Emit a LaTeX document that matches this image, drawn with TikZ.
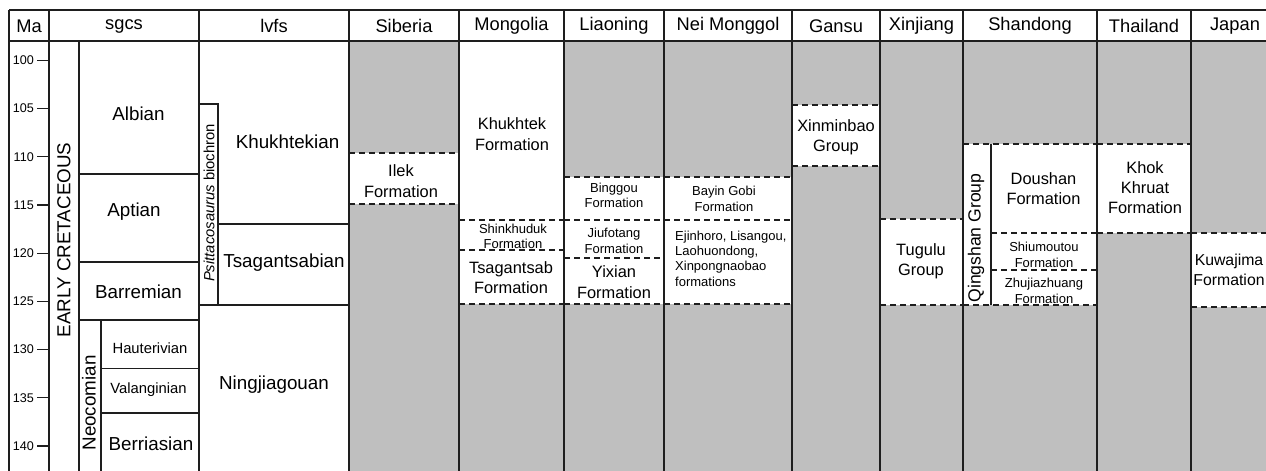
\documentclass[tikz,border=0pt]{standalone}
\usepackage{fontspec}
\setmainfont{Liberation Sans}
\definecolor{greyfill}{RGB}{191,191,191}
\definecolor{ink}{RGB}{30,30,30}
\tikzset{
  solidline/.style={draw=ink,line width=1.2pt},
  dashline/.style={draw=ink,line width=1.4pt,dash pattern=on 6pt off 4pt},
  hdr/.style={inner sep=0pt,font=\fontsize{18.3}{20}\selectfont},
  big/.style={inner sep=0pt,align=center,font=\fontsize{18.8}{20}\selectfont},
  mid/.style={inner sep=0pt,align=center,font=\fontsize{14.8}{16}\selectfont},
  med/.style={inner sep=0pt,align=center,font=\fontsize{16.4}{20.3}\selectfont},
  sml/.style={inner sep=0pt,align=center,font=\fontsize{13}{15.5}\selectfont},
  tick/.style={inner sep=0pt,anchor=east,font=\fontsize{12.6}{14}\selectfont},
  greybox/.style={fill=greyfill},
}
\begin{document}
\begin{tikzpicture}[x=1pt,y=-1pt]
\useasboundingbox (0,0) rectangle (1266,471);
\clip (0,0) rectangle (1266,471);
\fill[white] (0,0) rectangle (1266,471);
% grey areas
\path[greybox] (349,41) rectangle (459,153);
\path[greybox] (349,204) rectangle (459,471);
\path[greybox] (459,304) rectangle (564,471);
\path[greybox] (564,41) rectangle (664,177);
\path[greybox] (564,304) rectangle (664,471);
\path[greybox] (664,41) rectangle (792,177);
\path[greybox] (664,304) rectangle (792,471);
\path[greybox] (792,41) rectangle (880,105);
\path[greybox] (792,166) rectangle (880,471);
\path[greybox] (880,41) rectangle (963,219);
\path[greybox] (880,305) rectangle (963,471);
\path[greybox] (963,41) rectangle (1097,144);
\path[greybox] (963,305) rectangle (1097,471);
\path[greybox] (1097,41) rectangle (1191,144);
\path[greybox] (1097,233) rectangle (1191,471);
\path[greybox] (1191,41) rectangle (1280,233);
\path[greybox] (1191,307) rectangle (1280,471);
% dashed boundaries
\draw[dashline] (349,153) -- (459,153);
\draw[dashline] (349,204) -- (459,204);
\draw[dashline] (459,220) -- (564,220);
\draw[dashline] (459,250) -- (564,250);
\draw[dashline] (459,304) -- (564,304);
\draw[dashline] (564,177) -- (664,177);
\draw[dashline] (564,220) -- (664,220);
\draw[dashline] (564,258) -- (664,258);
\draw[dashline] (564,304) -- (664,304);
\draw[dashline] (664,177) -- (792,177);
\draw[dashline] (664,220) -- (792,220);
\draw[dashline] (664,304) -- (792,304);
\draw[dashline] (792,105) -- (880,105);
\draw[dashline] (792,166) -- (880,166);
\draw[dashline] (880,219) -- (963,219);
\draw[dashline] (880,305) -- (963,305);
\draw[dashline] (963,144) -- (1097,144);
\draw[dashline] (991,233) -- (1097,233);
\draw[dashline] (991,270) -- (1097,270);
\draw[dashline] (963,305) -- (1097,305);
\draw[dashline] (1097,144) -- (1191,144);
\draw[dashline] (1097,233) -- (1191,233);
\draw[dashline] (1191,233) -- (1280,233);
\draw[dashline] (1191,307) -- (1280,307);
% frame and columns
\draw[solidline] (9,10) -- (1280,10);
\draw[solidline] (9,41) -- (1280,41);
\foreach \cx in {9,49,199,349,459,564,664,792,880,963,1097,1191}
  \draw[solidline] (\cx,10) -- (\cx,472);
% sgcs
\draw[solidline] (79,41) -- (79,472);
\draw[solidline] (101,320) -- (101,472);
\draw[solidline] (79,174) -- (199,174);
\draw[solidline] (79,262) -- (199,262);
\draw[solidline] (79,320) -- (199,320);
\draw[solidline] (101,368.5) -- (199,368.5);
\draw[solidline] (101,413) -- (199,413);
% lvfs
\draw[solidline] (199,104) -- (218,104) -- (218,305);
\draw[solidline] (218,224) -- (349,224);
\draw[solidline] (199,305) -- (349,305);
% Shandong
\draw[solidline] (991,144) -- (991,305);
% ticks
\foreach \m [count=\i] in {100,105,110,115,120,125,130,135,140}{
  \pgfmathsetmacro{\ty}{60.3+(\m-100)*9.64}
  \draw[solidline] (37,\ty) -- (49,\ty);
  \node[tick] (t\i) at (34,\ty) {\m};
}
% headers
\node[hdr] (hMa) at (29,26) {Ma};
\node[hdr] (hsg) at (124,26) {sgcs};
\node[hdr] (hlv) at (274,26) {lvfs};
\node[hdr] (hsi) at (404,26) {Siberia};
\node[hdr] (hmo) at (511.5,26) {Mongolia};
\node[hdr] (hli) at (614,26) {Liaoning};
\node[hdr] (hne) at (728,26) {Nei Monggol};
\node[hdr] (hga) at (836,26) {Gansu};
\node[hdr] (hxi) at (921.5,26) {Xinjiang};
\node[hdr] (hsh) at (1030,26) {Shandong};
\node[hdr] (hth) at (1144,26) {Thailand};
\node[hdr] (hja) at (1235,26) {Japan};
% sgcs labels
\node[big,rotate=90] (ec) at (64,240) {EARLY CRETACEOUS};
\node[big,rotate=90] (neo) at (89,403) {Neocomian};
\node[big] (alb) at (138.5,114) {Albian};
\node[big] (apt) at (134,212) {Aptian};
\node[big] (bar) at (138.5,292) {Barremian};
\node[mid] (hau) at (150,348) {Hauterivian};
\node[mid] (val) at (148.5,390) {Valanginian};
\node[big] (ber) at (151,444) {Berriasian};
% lvfs labels
\node[mid,rotate=90] (psi) at (209,203) {\textit{Psittacosaurus} biochron};
\node[big] (khu) at (287.5,142) {Khukhtekian};
\node[big] (tsa) at (284,263) {Tsagantsabian};
\node[big] (nin) at (274,385) {Ningjiagouan};
% formations
\node[med] (ilek) at (401,181) {Ilek\\Formation};
\node[med] (khf) at (512,134) {Khukhtek\\Formation};
\node[sml] (shf) at (513,236.5) {Shinkhuduk\\Formation};
\node[med] (tsf) at (511,277.5) {Tsagantsab\\Formation};
\node[sml] (bif) at (614,195.5) {Binggou\\Formation};
\node[sml] (jif) at (614,241) {Jiufotang\\Formation};
\node[med] (yif) at (614,282) {Yixian\\Formation};
\node[sml] (bay) at (724,199) {Bayin Gobi\\Formation};
\node[sml,align=left,anchor=west,font=\fontsize{13}{15.3}\selectfont] (eji) at (675,258.5) {Ejinhoro, Lisangou,\\Laohuondong,\\Xinpongnaobao\\formations};
\node[med] (xmb) at (836,137.5) {Xinminbao\\Group};
\node[med] (tug) at (921,261) {Tugulu\\Group};
\node[med,rotate=90,font=\fontsize{17.6}{20}\selectfont] (qin) at (976,238) {Qingshan Group};
\node[med] (dou) at (1043.5,188.5) {Doushan\\Formation};
\node[sml] (shi) at (1044,255) {Shiumoutou\\Formation};
\node[sml] (zhu) at (1044,291) {Zhujiazhuang\\Formation};
\node[med] (kho) at (1145,187.5) {Khok\\Khruat\\Formation};
\node[med,font=\fontsize{15.8}{20.3}\selectfont] (kuw) at (1229,270) {Kuwajima\\Formation};
\end{tikzpicture}
\end{document}
